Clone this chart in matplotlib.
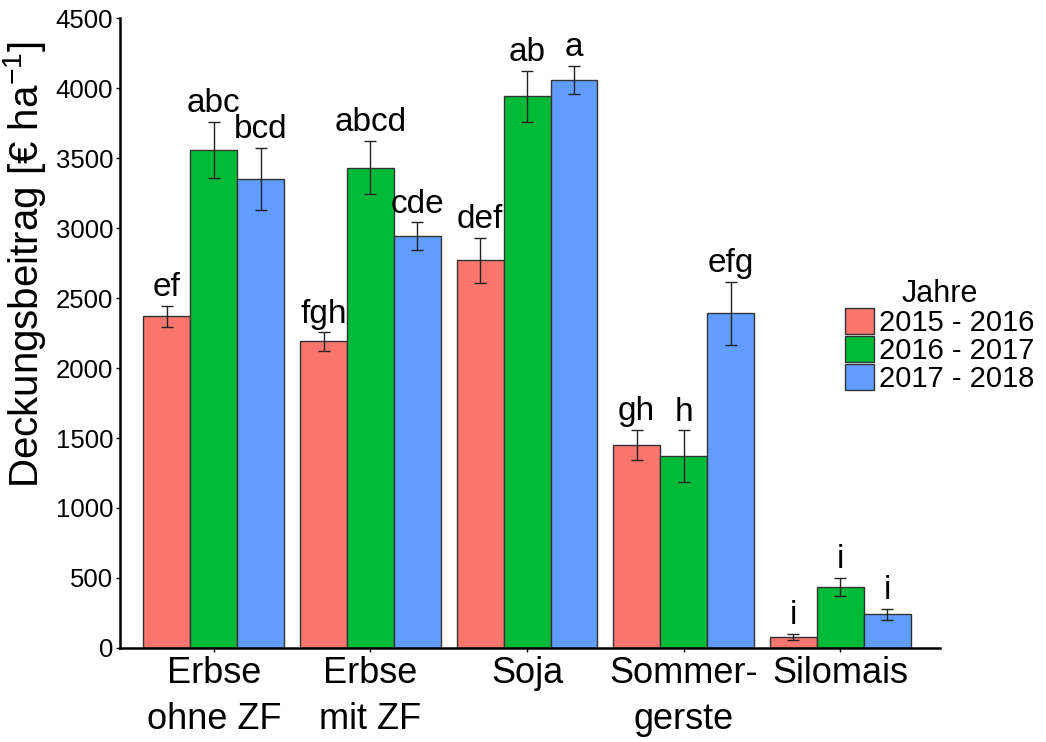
import numpy as np
import matplotlib
matplotlib.use("Agg")
import matplotlib.pyplot as plt

plt.rcParams['font.family'] = ['Liberation Sans', 'DejaVu Sans']
plt.rcParams['mathtext.default'] = 'regular'

# data
crops = ["Erbse\nohne ZF", "Erbse\nmit ZF", "Soja", "Sommer-\ngerste", "Silomais"]
years = ["2015 - 2016", "2016 - 2017", "2017 - 2018"]
colors = ["#F8766D", "#00BA38", "#619CFF"]

y2015 = [2370, 2190, 2770, 1450, 80]
y2016 = [3560, 3430, 3940, 1370, 435]
y2017 = [3350, 2940, 4060, 2390, 240]
err2015 = [75, 65, 160, 110, 22]
err2016 = [200, 190, 180, 185, 66]
err2017 = [220, 100, 100, 227, 40]
let2015 = ["ef", "fgh", "def", "gh", "i"]
let2016 = ["abc", "abcd", "ab", "h", "i"]
let2017 = ["bcd", "cde", "a", "efg", "i"]

values = [y2015, y2016, y2017]
errors = [err2015, err2016, err2017]
letters = [let2015, let2016, let2017]

fig = plt.figure(figsize=(10.46, 7.42), dpi=100)
ax = fig.add_axes([0.1147, 0.1267, 0.7843, 0.849])

x = np.arange(len(crops))
w = 0.3
for i in range(3):
    pos = x + (i - 1) * w
    ax.bar(pos, values[i], width=w, color=colors[i], edgecolor="#333333",
           linewidth=1, label=years[i], zorder=2)
    ax.errorbar(pos, values[i], yerr=errors[i], fmt="none", ecolor="#222222",
                elinewidth=1, capsize=4, capthick=1, zorder=3)
    for p, v, e, t in zip(pos, values[i], errors[i], letters[i]):
        ax.text(p, v + e + 70, t, ha="center", va="baseline", fontsize=24)

ax.set_xlim(-0.6, 4.64)
ax.set_ylim(0, 4500)
ax.set_yticks(np.arange(0, 4501, 500))
ax.set_xticks(x)
ax.set_xticklabels(crops, fontsize=26, linespacing=1.4)
ax.tick_params(axis="y", labelsize=18.5, length=3, width=1, pad=2)
ax.tick_params(axis="x", length=3, width=1, pad=3)
ax.set_ylabel("Deckungsbeitrag [€ ha$^{-1}$]", fontsize=29)
ax.yaxis.set_label_coords(-0.088, 0.608)

for s in ["top", "right"]:
    ax.spines[s].set_visible(False)
for s in ["left", "bottom"]:
    ax.spines[s].set_linewidth(1.8)

leg = ax.legend(title="Jahre", loc="upper left", bbox_to_anchor=(0.884, 0.585),
                frameon=False, fontsize=21, title_fontsize=22,
                handlelength=1.0, handleheight=1.0, labelspacing=-0.04,
                handletextpad=0.15, borderaxespad=0, borderpad=0)
for p in leg.get_patches():
    p.set_edgecolor("#333333")

fig.savefig("out.png", dpi=100)
